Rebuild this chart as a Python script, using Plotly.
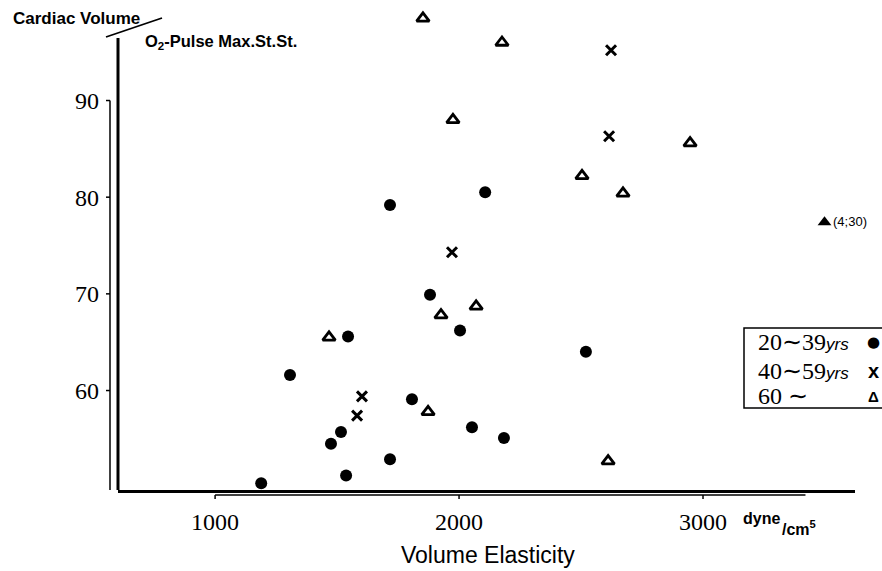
import plotly.graph_objects as go

# ---------------- data ----------------
x_ticks = [1000, 2000, 3000]
x_tick_labels = ["1000", "2000", "3000"]
y_ticks = [60, 70, 80, 90]
y_tick_labels = ["60", "70", "80", "90"]

# 20~39 yrs (filled circles)
young_x = [1189, 1307, 1545, 1717, 2107, 1881, 2004, 2520, 1807, 1516, 1475, 2053, 2184, 1717, 1537]
young_y = [50.4, 61.6, 65.6, 79.2, 80.5, 69.9, 66.2, 64.0, 59.1, 55.7, 54.5, 56.2, 55.1, 52.9, 51.2]

# 40~59 yrs (crosses)
middle_x = [2623, 2615, 1971, 1602, 1582]
middle_y = [95.2, 86.3, 74.3, 59.4, 57.4]

# 60 ~ (open triangles)
old_x = [1852, 2176, 1975, 2947, 2504, 2672, 2070, 1926, 1467, 1873, 2611]
old_y = [98.5, 96.0, 88.0, 85.6, 82.2, 80.4, 68.7, 67.8, 65.5, 57.8, 52.7]

# 60 ~ special case (filled triangle, labelled)
old_special_x = [3498]
old_special_y = [77.4]
old_special_label = ["(4;30)"]

legend_labels = ["20∼39<span style='font-family:Liberation Sans;font-size:17px'><i>yrs</i></span>",
                 "40∼59<span style='font-family:Liberation Sans;font-size:17px'><i>yrs</i></span>",
                 "60 ∼"]
legend_symbols = ["●", "x", "Δ"]

X_RANGE = [602, 3623]
Y_RANGE = [49.71, 99.57]
Y_AXIS_TOP = 96.46  # where the drawn vertical axis ends

# ---------------- geometry helpers ----------------
PLOT_L, PLOT_R, PLOT_T, PLOT_B = 118, 855, 8, 490
PW = float(PLOT_R - PLOT_L)
PH = float(PLOT_B - PLOT_T)


def xp(v):
    return (v - X_RANGE[0]) / (X_RANGE[1] - X_RANGE[0])


def yp(v):
    return (v - Y_RANGE[0]) / (Y_RANGE[1] - Y_RANGE[0])


def px_x(px):
    return (px - PLOT_L) / PW


def px_y(py):
    return (PLOT_B - py) / PH


fig = go.Figure()

fig.add_trace(go.Scatter(x=young_x, y=young_y, mode="markers", name="20~39yrs",
                         marker=dict(symbol="circle", size=12, color="black"),
                         cliponaxis=False, showlegend=False))
fig.add_trace(go.Scatter(x=middle_x, y=middle_y, mode="markers", name="40~59yrs",
                         marker=dict(symbol="x-thin", size=10, color="black",
                                     line=dict(color="black", width=3)),
                         cliponaxis=False, showlegend=False))
fig.add_trace(go.Scatter(x=old_x, y=old_y, mode="markers", name="60~",
                         marker=dict(symbol="triangle-up-open", size=11, color="black",
                                     line=dict(color="black", width=2.8)),
                         cliponaxis=False, showlegend=False))
fig.add_trace(go.Scatter(x=old_special_x, y=old_special_y, mode="markers+text", name="60~ (4;30)",
                         text=old_special_label, textposition="middle right",
                         textfont=dict(family="Liberation Sans", size=13, color="black"),
                         marker=dict(symbol="triangle-up", size=12, color="black"),
                         cliponaxis=False, showlegend=False))

shapes = []
line_style = dict(color="black", width=1.5)
# main vertical axis line
shapes.append(dict(type="line", xref="paper", yref="paper", x0=0, x1=0,
                   y0=yp(Y_AXIS_TOP), y1=0, line=dict(color="black", width=3)))
# thin inner vertical line with hooks
thin_x = px_x(110)
shapes.append(dict(type="line", xref="paper", yref="paper", x0=thin_x, x1=thin_x,
                   y0=yp(y_ticks[-1]), y1=0.0, line=line_style))
for t in y_ticks:
    shapes.append(dict(type="line", xref="paper", yref="paper", x0=thin_x, x1=px_x(106),
                       y0=yp(t), y1=yp(t), line=line_style))
# thin lower horizontal line with ticks
thin_y = px_y(495)
shapes.append(dict(type="line", xref="paper", yref="paper", x0=xp(x_ticks[0]), x1=xp(3420),
                   y0=thin_y, y1=thin_y, line=line_style))
for t in x_ticks:
    shapes.append(dict(type="line", xref="paper", yref="paper", x0=xp(t), x1=xp(t),
                       y0=thin_y, y1=px_y(499), line=line_style))
# diagonal line in the y-axis title
shapes.append(dict(type="line", xref="paper", yref="paper",
                   x0=px_x(106), y0=px_y(37), x1=px_x(162), y1=px_y(18),
                   line=dict(color="black", width=1.8)))
# legend box
shapes.append(dict(type="rect", xref="paper", yref="paper",
                   x0=px_x(744), x1=px_x(890), y0=px_y(408), y1=px_y(328),
                   line=dict(color="black", width=1.5), fillcolor="white"))

annotations = []
annotations.append(dict(xref="paper", yref="paper", x=px_x(11), y=px_y(18),
                        xanchor="left", yanchor="middle", showarrow=False,
                        text="<b>Cardiac Volume</b>",
                        font=dict(family="Liberation Sans", size=17, color="black")))
annotations.append(dict(xref="paper", yref="paper", x=px_x(143), y=px_y(42),
                        xanchor="left", yanchor="middle", showarrow=False,
                        text="<b>O<sub>2</sub>-Pulse Max.St.St.</b>",
                        font=dict(family="Liberation Sans", size=16.5, color="black")))
annotations.append(dict(xref="paper", yref="paper", x=px_x(488), y=px_y(555),
                        xanchor="center", yanchor="middle", showarrow=False,
                        text="Volume Elasticity",
                        font=dict(family="Liberation Sans", size=23, color="black")))
annotations.append(dict(xref="paper", yref="paper", x=px_x(741), y=px_y(518),
                        xanchor="left", yanchor="middle", showarrow=False,
                        text="<b>dyne</b>",
                        font=dict(family="Liberation Sans", size=16, color="black")))
annotations.append(dict(xref="paper", yref="paper", x=px_x(780), y=px_y(528),
                        xanchor="left", yanchor="middle", showarrow=False,
                        text="<b>/cm</b><sup><b>5</b></sup>",
                        font=dict(family="Liberation Sans", size=16, color="black")))
legend_rows_px = [342, 371, 396]
symbol_sizes = [15, 20, 15]
symbol_fonts = ["DejaVu Sans", "Liberation Sans", "Liberation Sans"]
for lab, sym, ry, ss, sf in zip(legend_labels, legend_symbols, legend_rows_px, symbol_sizes, symbol_fonts):
    annotations.append(dict(xref="paper", yref="paper", x=px_x(756), y=px_y(ry),
                            xanchor="left", yanchor="middle", showarrow=False, text=lab,
                            font=dict(family="Liberation Serif", size=24, color="black")))
    annotations.append(dict(xref="paper", yref="paper", x=px_x(873), y=px_y(ry),
                            xanchor="center", yanchor="middle", showarrow=False,
                            text="<b>" + sym + "</b>",
                            font=dict(family=sf, size=ss, color="black")))

fig.update_layout(
    width=882, height=571, autosize=False,
    margin=dict(l=PLOT_L, r=882 - PLOT_R, t=PLOT_T, b=571 - PLOT_B, pad=0),
    paper_bgcolor="white", plot_bgcolor="white",
    shapes=shapes, annotations=annotations,
    xaxis=dict(range=X_RANGE, showgrid=False, zeroline=False, showline=True,
               linecolor="black", linewidth=3, ticks="",
               tickvals=x_ticks, ticktext=x_tick_labels, ticklabelstandoff=8,
               tickfont=dict(family="Liberation Serif", size=24, color="black")),
    yaxis=dict(range=Y_RANGE, showgrid=False, zeroline=False, showline=False,
               ticks="", tickvals=y_ticks, ticktext=y_tick_labels, ticklabelstandoff=18,
               tickfont=dict(family="Liberation Serif", size=24, color="black")),
)

fig.write_html("out.html")
